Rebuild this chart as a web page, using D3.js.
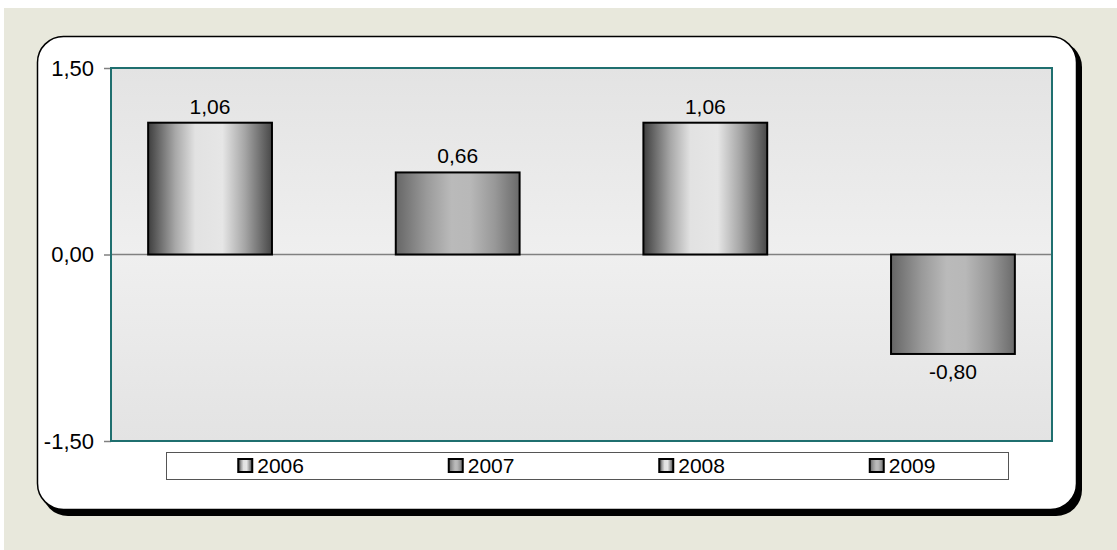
<!DOCTYPE html>
<html>
<head>
<meta charset="utf-8">
<title>Chart</title>
<script src="https://d3js.org/d3.v7.min.js"></script>
<style>
	body{ margin:0; background:#fff; }
	svg text{ font-family: "Liberation Sans", Arial, sans-serif; fill:#000; }
</style>
</head>
<body>
<script>
	// data
	var years = ["2006","2007","2008","2009"]
	var values = [1.06, 0.66, 1.06, -0.80]
	var labels = ["1,06","0,66","1,06","-0,80"]
	var yTicks = [1.5, 0, -1.5]
	var yTickLabels = ["1,50","0,00","-1,50"]
	var barStyle = ["light","dark","light","dark"]

	var W = 1117, H = 550
	var plot = {left:111, top:68, right:1052, bottom:441}

	var svg = d3.select("body").append("svg").attr("width",W).attr("height",H)
	var defs = svg.append("defs")

	// gradients
	var light = defs.append("linearGradient").attr("id","gLight").attr("x1","0%").attr("x2","100%")
	;[[0,"#3e3e3e"],[0.22,"#a8a8a8"],[0.38,"#e2e2e2"],[0.6,"#e6e6e6"],[0.78,"#a6a6a6"],[1,"#484848"]].forEach(function(s){
		light.append("stop").attr("offset",s[0]).attr("stop-color",s[1])
	})
	var dark = defs.append("linearGradient").attr("id","gDark").attr("x1","0%").attr("x2","100%")
	;[[0,"#666666"],[0.25,"#9a9a9a"],[0.45,"#bababa"],[0.6,"#b8b8b8"],[0.8,"#989898"],[1,"#6a6a6a"]].forEach(function(s){
		dark.append("stop").attr("offset",s[0]).attr("stop-color",s[1])
	})
	var bg = defs.append("linearGradient").attr("id","gBg").attr("x1","0%").attr("x2","0%").attr("y1","0%").attr("y2","100%")
	;[[0,"#e3e3e3"],[0.5,"#efefef"],[1,"#e3e3e3"]].forEach(function(s){
		bg.append("stop").attr("offset",s[0]).attr("stop-color",s[1])
	})

	// page background
	svg.append("rect").attr("x",4).attr("y",8).attr("width",W-4).attr("height",H-8).attr("fill","#e8e8dc")

	// rounded frame with shadow
	svg.append("rect").attr("x",42).attr("y",41).attr("width",1040).attr("height",475).attr("rx",26).attr("fill","#000")
	svg.append("rect").attr("x",37.5).attr("y",36.5).attr("width",1039).attr("height",473).attr("rx",26)
		.attr("fill","#fff").attr("stroke","#000").attr("stroke-width",1.5)

	var x = d3.scaleBand().domain(years).range([plot.left, plot.right]).paddingInner(0.5).paddingOuter(0.15)
	var y = d3.scaleLinear().domain([-1.5, 1.5]).range([plot.bottom, plot.top])

	// plot area
	svg.append("rect").attr("x",plot.left).attr("y",plot.top).attr("width",plot.right-plot.left).attr("height",plot.bottom-plot.top)
		.attr("fill","url(#gBg)")

	// y axis
	var yAxis = d3.axisLeft(y).tickValues(yTicks).tickSize(7).tickPadding(10)
		.tickFormat(function(d,i){ return yTickLabels[i] })
	var ga = svg.append("g").attr("transform","translate("+plot.left+",0)").call(yAxis)
	ga.select(".domain").remove()
	ga.selectAll(".tick line").attr("stroke","#808080").attr("stroke-width",1.5)
	ga.selectAll(".tick text").attr("font-size",22).attr("fill","#000")

	// zero line
	svg.append("line").attr("x1",plot.left).attr("x2",plot.right).attr("y1",y(0)).attr("y2",y(0))
		.attr("stroke","#808080").attr("stroke-width",1.5)

	// bars
	svg.selectAll(".bar").data(values).enter().append("rect").attr("class","bar")
		.attr("x",function(d,i){ return x(years[i]) })
		.attr("y",function(d){ return y(Math.max(0,d)) })
		.attr("width",x.bandwidth())
		.attr("height",function(d){ return Math.abs(y(d)-y(0)) })
		.attr("fill",function(d,i){ return barStyle[i]=="light" ? "url(#gLight)" : "url(#gDark)" })
		.attr("stroke","#000").attr("stroke-width",2)

	svg.selectAll(".lbl").data(values).enter().append("text").attr("class","lbl")
		.attr("x",function(d,i){ return x(years[i]) + x.bandwidth()/2 })
		.attr("y",function(d){ return d >= 0 ? y(d) - 9 : y(d) + 25 })
		.attr("text-anchor","middle").attr("font-size",21)
		.text(function(d,i){ return labels[i] })

	// plot border
	svg.append("rect").attr("x",plot.left).attr("y",plot.top).attr("width",plot.right-plot.left).attr("height",plot.bottom-plot.top)
		.attr("fill","none").attr("stroke","#1f6f6f").attr("stroke-width",2)

	// legend
	var lg = {x:166, y:452, w:842, h:27}
	svg.append("rect").attr("x",lg.x+0.5).attr("y",lg.y+0.5).attr("width",lg.w).attr("height",lg.h)
		.attr("fill","#fff").attr("stroke","#555").attr("stroke-width",1)
	var slot = lg.w / years.length
	var item = svg.selectAll(".leg").data(years).enter().append("g").attr("class","leg")
		.attr("transform",function(d,i){ return "translate("+(lg.x + slot*i + slot/2 - 33)+","+(lg.y + lg.h/2)+")" })
	item.append("rect").attr("x",0).attr("y",-6.5).attr("width",14).attr("height",13)
		.attr("fill",function(d,i){ return barStyle[i]=="light" ? "url(#gLight)" : "url(#gDark)" })
		.attr("stroke","#000").attr("stroke-width",2)
	item.append("text").attr("x",19).attr("y",7.5).attr("font-size",21).text(function(d){ return d })
</script>
</body>
</html>
